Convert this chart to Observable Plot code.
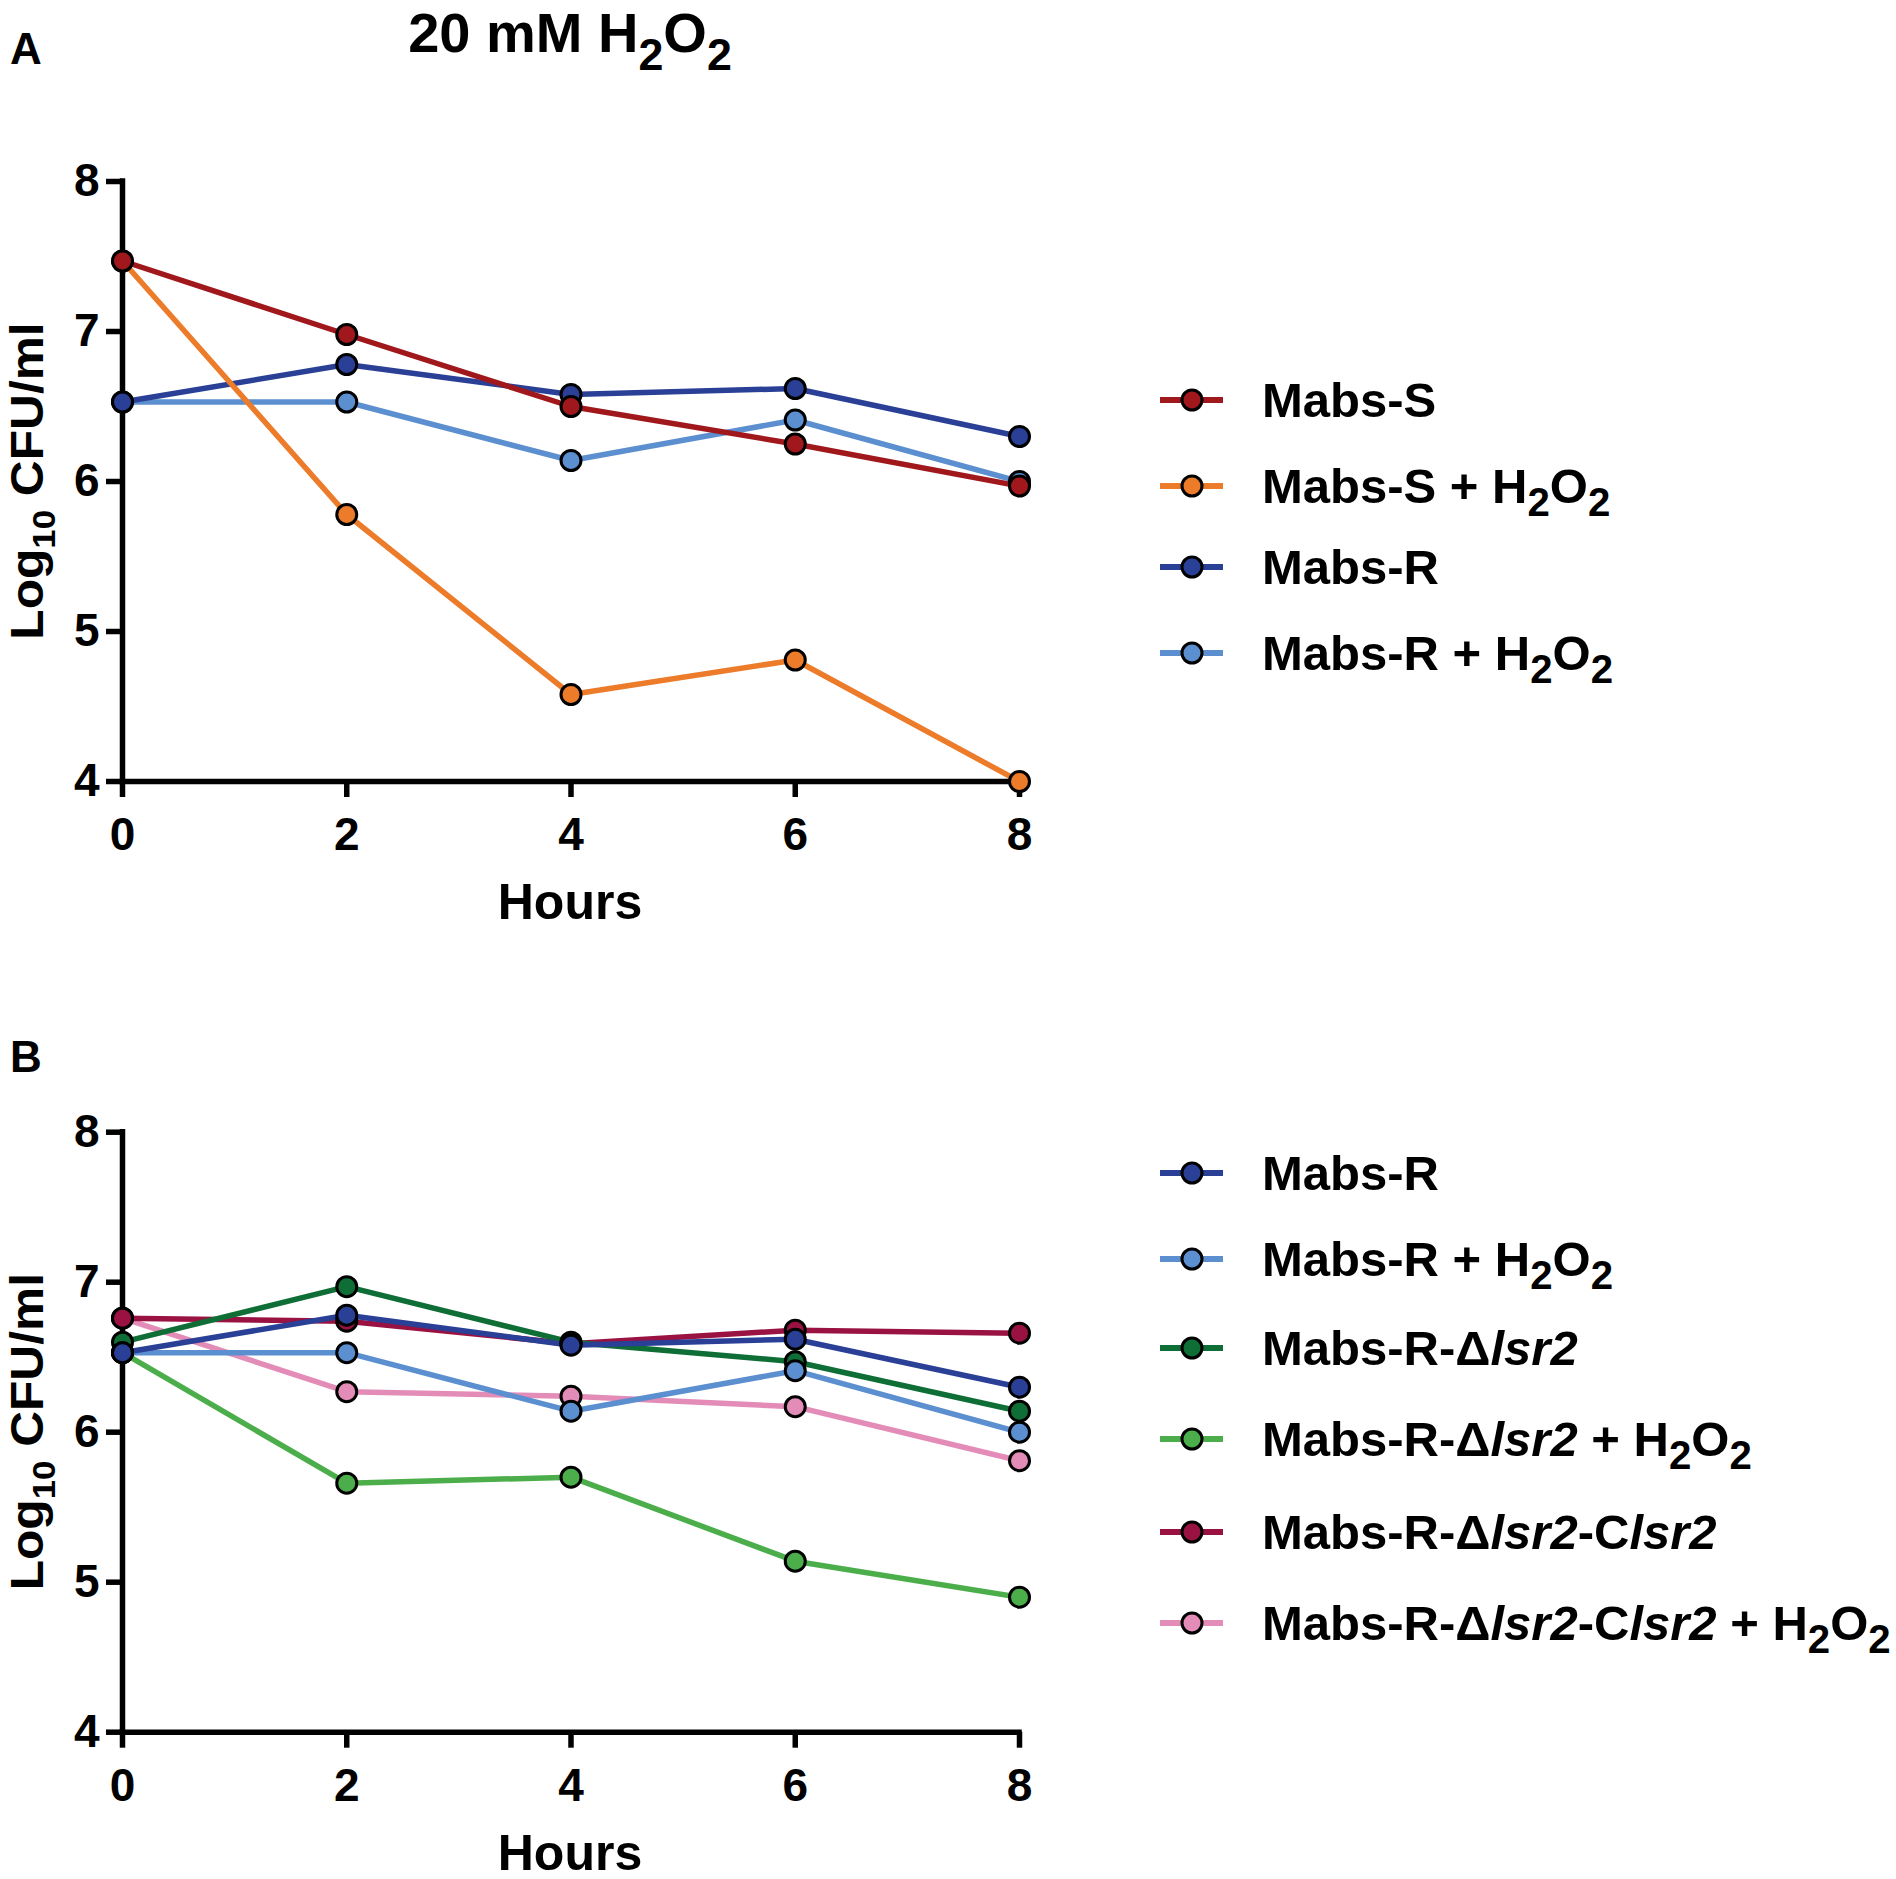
<!DOCTYPE html>
<html><head><meta charset="utf-8">
<script src="https://cdn.jsdelivr.net/npm/d3@7"></script>
<script src="https://cdn.jsdelivr.net/npm/@observablehq/plot@0.6"></script>
<style>
body{margin:0;background:#fff;}
svg{display:block;overflow:visible;}
</style>
</head><body><div id="chart"></div>
<script>
// ---------- data ----------
const hours = [0, 2, 4, 6, 8];
const yTicks = [4, 5, 6, 7, 8];

// Panel A
const seriesA = ["Mabs-S", "Mabs-S + H2O2", "Mabs-R", "Mabs-R + H2O2"];
const labelsA = ["Mabs-S", "Mabs-S + H<sub>2</sub>O<sub>2</sub>", "Mabs-R", "Mabs-R + H<sub>2</sub>O<sub>2</sub>"];
const colorsA = ["#A0181B", "#EC7B2A", "#2A3F96", "#5B8FD0"];
const mabsS      = [7.47, 6.98, 6.50, 6.25, 5.97];
const mabsS_H2O2 = [7.47, 5.78, 4.58, 4.81, 4.00];
const mabsR      = [6.53, 6.78, 6.58, 6.62, 6.30];
const mabsR_H2O2 = [6.53, 6.53, 6.14, 6.41, 6.00];
const valuesA = [mabsS, mabsS_H2O2, mabsR, mabsR_H2O2];

// Panel B
const seriesB = ["Mabs-R", "Mabs-R + H2O2", "Mabs-R-dlsr2", "Mabs-R-dlsr2 + H2O2", "Mabs-R-dlsr2-Clsr2", "Mabs-R-dlsr2-Clsr2 + H2O2"];
const labelsB = [
  "Mabs-R",
  "Mabs-R + H<sub>2</sub>O<sub>2</sub>",
  "Mabs-R-Δ<i>lsr2</i>",
  "Mabs-R-Δ<i>lsr2</i> + H<sub>2</sub>O<sub>2</sub>",
  "Mabs-R-Δ<i>lsr2</i>-C<i>lsr2</i>",
  "Mabs-R-Δ<i>lsr2</i>-C<i>lsr2</i> + H<sub>2</sub>O<sub>2</sub>"
];
const colorsB = ["#2A3F96", "#5B8FD0", "#0E6E35", "#4BAE4B", "#9A1242", "#E48CB8"];
const bMabsR         = [6.53, 6.78, 6.58, 6.62, 6.30];
const bMabsR_H2O2    = [6.53, 6.53, 6.14, 6.41, 6.00];
const bDlsr2         = [6.60, 6.97, 6.60, 6.47, 6.14];
const bDlsr2_H2O2    = [6.53, 5.66, 5.70, 5.14, 4.90];
const bClsr2         = [6.76, 6.74, 6.59, 6.68, 6.66];
const bClsr2_H2O2    = [6.76, 6.27, 6.24, 6.17, 5.81];
const valuesB = [bMabsR, bMabsR_H2O2, bDlsr2, bDlsr2_H2O2, bClsr2, bClsr2_H2O2];

// ---------- helpers ----------
const FONT = "'Liberation Sans', Arial, Helvetica, sans-serif";

function rows(series, values) {
  const out = [];
  // reverse so that the first legend item is drawn on top
  for (let i = series.length - 1; i >= 0; i--) {
    hours.forEach((h, j) => out.push({series: series[i], hour: h, value: values[i][j]}));
  }
  return out;
}

function rich(textSel, str, size, subScale, subShift) {
  const parts = str.split(/(<i>[^<]*<\/i>|<sub>[^<]*<\/sub>)/).filter(s => s);
  let shift = 0;
  for (const p of parts) {
    const t = textSel.append("tspan");
    let target = 0, content = p;
    if (p.startsWith("<i>")) { content = p.slice(3, -4); t.attr("font-style", "italic"); }
    else if (p.startsWith("<sub>")) { content = p.slice(5, -6); t.attr("font-size", size * subScale); target = size * subShift; }
    if (target - shift !== 0) t.attr("dy", target - shift);
    shift = target;
    t.text(content);
  }
}

function panel(opts) {
  const {series, labels, colors, values, height, marginTop, letter, letterY, legendYs} = opts;
  const data = rows(series, values);
  const marginBottom = height - marginTop - 600;
  const svg = Plot.plot({
    width: 1896, height,
    marginLeft: 122, marginRight: 877, marginTop, marginBottom,
    x: {domain: [0, 8]},
    y: {domain: [4, 8]},
    color: {type: "ordinal", domain: series, range: colors},
    style: {fontFamily: FONT, color: "#000", background: "#fff", overflow: "visible"},
    marks: [
      Plot.axisX({ticks: hours, tickSize: 16, tickPadding: 20, fontSize: 46, fontWeight: "bold", strokeWidth: 5.5, label: null, tickFormat: d => d}),
      Plot.axisY({ticks: yTicks, tickSize: 16, tickPadding: 7, fontSize: 46, fontWeight: "bold", strokeWidth: 5.5, label: null, tickFormat: d => d}),
      Plot.ruleX([0], {y1: 4, y2: 8, stroke: "#000", strokeWidth: 5.5, strokeLinecap: "square"}),
      Plot.ruleY([4], {x1: 0, x2: 8, stroke: "#000", strokeWidth: 5.5, strokeLinecap: "square"}),
      Plot.line(data, {x: "hour", y: "value", z: "series", stroke: "series", strokeWidth: 5.5}),
      Plot.dot(data, {x: "hour", y: "value", fill: "series", stroke: "#000", strokeWidth: 3, r: 10})
    ]
  });
  const s = d3.select(svg);
  const axisY = marginTop + 600;
  // x axis title
  s.append("text").attr("x", 570).attr("y", axisY + 138).attr("text-anchor", "middle")
    .attr("font-family", FONT).attr("font-weight", "bold").attr("font-size", 50).attr("fill", "#000").text("Hours");
  // y axis title
  const yl = s.append("text")
    .attr("transform", `translate(43,${marginTop + 300}) rotate(-90) scale(1.08,1)`)
    .attr("text-anchor", "middle").attr("font-family", FONT).attr("font-weight", "bold")
    .attr("font-size", 46).attr("fill", "#000");
  rich(yl, "Log<sub>10</sub> CFU/ml", 46, 0.7, 0.26);
  // panel letter
  s.append("text").attr("x", 10).attr("y", letterY).attr("text-anchor", "start").attr("font-family", FONT).attr("font-weight", "bold")
    .attr("font-size", 44).attr("fill", "#000").text(letter);
  // legend
  const lg = s.append("g");
  labels.forEach((lab, i) => {
    const y = legendYs[i];
    lg.append("line").attr("x1", 1160).attr("x2", 1223).attr("y1", y).attr("y2", y)
      .attr("stroke", colors[i]).attr("stroke-width", 6);
    lg.append("circle").attr("cx", 1192).attr("cy", y).attr("r", 10)
      .attr("fill", colors[i]).attr("stroke", "#000").attr("stroke-width", 3);
    const t = lg.append("text").attr("x", 1262).attr("y", y + 17).attr("text-anchor", "start").attr("font-family", FONT)
      .attr("font-weight", "bold").attr("font-size", 49).attr("fill", "#000");
    rich(t, lab, 49, 0.82, 0.26);
  });
  return svg;
}

const root = document.getElementById("chart");

const svgA = panel({
  series: seriesA, labels: labelsA, colors: colorsA, values: valuesA,
  height: 940, marginTop: 181, letter: "A", letterY: 64,
  legendYs: [400, 486, 567, 653]
});
// main title
const tt = d3.select(svgA).append("text").attr("x", 570).attr("y", 52).attr("text-anchor", "middle")
  .attr("font-family", FONT).attr("font-weight", "bold").attr("font-size", 56).attr("fill", "#000");
rich(tt, "20 mM H<sub>2</sub>O<sub>2</sub>", 56, 0.8, 0.33);
root.appendChild(svgA);

const svgB = panel({
  series: seriesB, labels: labelsB, colors: colorsB, values: valuesB,
  height: 939, marginTop: 191.7, letter: "B", letterY: 132,
  legendYs: [233, 319, 408, 499, 592, 683]
});
root.appendChild(svgB);
</script>
</body></html>
